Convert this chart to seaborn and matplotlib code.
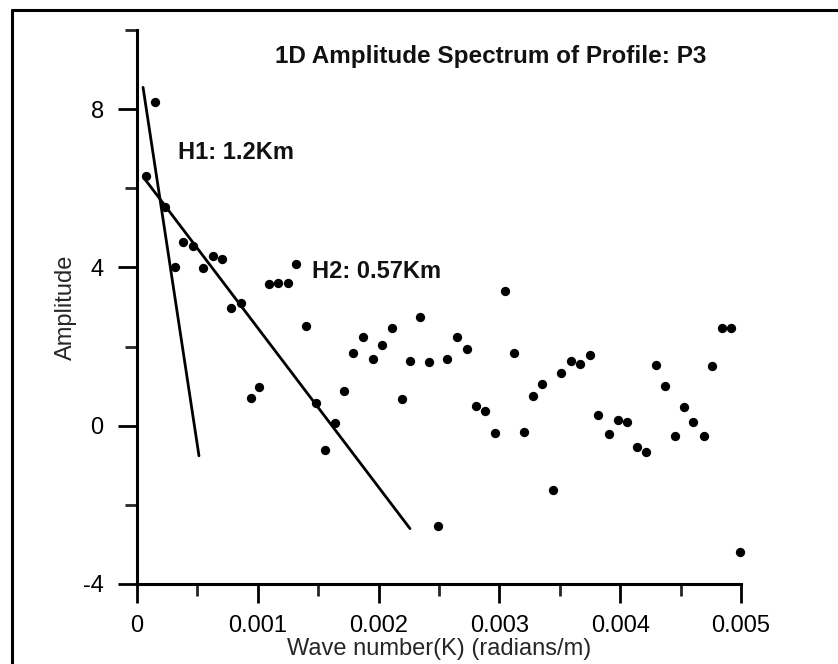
import matplotlib
matplotlib.use("Agg")
import matplotlib.pyplot as plt
import seaborn as sns
import numpy as np
import pandas as pd
from matplotlib.ticker import MultipleLocator
from matplotlib.lines import Line2D

# ---- data ----
wave_number = [0.000075, 0.00015, 0.00023, 0.000315, 0.00038, 0.00046, 0.00055, 0.00063,
               0.0007, 0.00078, 0.00086, 0.00094, 0.00101, 0.00109, 0.00117, 0.00125,
               0.00132, 0.0014, 0.00148, 0.00156, 0.00164, 0.00171, 0.00179, 0.00187,
               0.00195, 0.00203, 0.00211, 0.00219, 0.00226, 0.00234, 0.00242, 0.00249,
               0.00257, 0.00265, 0.00273, 0.00281, 0.00288, 0.00296, 0.00305, 0.00312,
               0.0032, 0.00328, 0.00335, 0.00344, 0.00351, 0.00359, 0.00367, 0.00375,
               0.00382, 0.00391, 0.00398, 0.00406, 0.00414, 0.00421, 0.0043, 0.00437,
               0.00445, 0.00453, 0.0046, 0.00469, 0.00476, 0.00484, 0.00492, 0.00499]
amplitude = [6.31, 8.18, 5.53, 4.0, 4.65, 4.55, 3.99, 4.29,
             4.22, 2.98, 3.1, 0.71, 0.99, 3.59, 3.6, 3.6,
             4.09, 2.52, 0.58, -0.61, 0.07, 0.87, 1.85, 2.25,
             1.68, 2.04, 2.47, 0.68, 1.64, 2.75, 1.62, -2.53,
             1.68, 2.23, 1.93, 0.51, 0.36, -0.18, 3.41, 1.85,
             -0.15, 0.76, 1.06, -1.62, 1.34, 1.64, 1.57, 1.79,
             0.28, -0.2, 0.15, 0.1, -0.53, -0.67, 1.54, 1.01,
             -0.27, 0.48, 0.1, -0.27, 1.52, 2.47, 2.47, -3.2]

h1_x = [0.00005, 0.000513]
h1_y = [8.55, -0.76]
h2_x = [0.000058, 0.00226]
h2_y = [6.26, -2.6]

x_ticks = [0, 0.001, 0.002, 0.003, 0.004, 0.005]
x_ticklabels = ["0", "0.001", "0.002", "0.003", "0.004", "0.005"]
y_ticks = [-4, 0, 4, 8]
y_ticklabels = ["-4", "0", "4", "8"]

title = "1D Amplitude Spectrum of Profile: P3"
label_h1 = "H1: 1.2Km"
label_h2 = "H2: 0.57Km"

# ---- style ----
sns.set_style("ticks")
plt.rcParams['font.family'] = ['Liberation Sans', 'DejaVu Sans']

W, H = 838, 664
fig = plt.figure(figsize=(W / 100, H / 100), dpi=100)
ax = fig.add_axes([137 / W, 1 - 584 / H, (741 - 137) / W, (584 - 30) / H])

df = pd.DataFrame({"k": wave_number, "amp": amplitude})
sns.scatterplot(data=df, x="k", y="amp", ax=ax, color="black", s=45,
                edgecolor="black", linewidth=0, clip_on=False, zorder=3)
sns.lineplot(x=h1_x, y=h1_y, ax=ax, color="black", linewidth=2.0, sort=False)
sns.lineplot(x=h2_x, y=h2_y, ax=ax, color="black", linewidth=2.0, sort=False)

ax.set_xlim(0, 0.005)
ax.set_ylim(-4, 10)
ax.set_xticks(x_ticks)
ax.set_xticklabels(x_ticklabels)
ax.set_yticks(y_ticks)
ax.set_yticklabels(y_ticklabels)
ax.xaxis.set_minor_locator(MultipleLocator(0.0005))
ax.yaxis.set_minor_locator(MultipleLocator(2))

for s in ["top", "right"]:
    ax.spines[s].set_visible(False)
for s in ["left", "bottom"]:
    ax.spines[s].set_linewidth(2.2)
    ax.spines[s].set_color("black")

ax.tick_params(axis="both", which="major", direction="out", length=14, width=2.0,
               labelsize=17, colors="black", pad=8)
ax.tick_params(axis="both", which="minor", direction="out", length=8.5, width=2.0)
ax.tick_params(axis="y", which="major", pad=10)

ax.set_xlabel("Wave number(K) (radians/m)", fontsize=17, labelpad=1)
ax.set_ylabel("Amplitude", fontsize=17, labelpad=4)

ax.text(0.00293, 9.32, title, fontsize=17.5, fontweight="bold", ha="center", va="center",
        color="#111111")
ax.text(0.00034, 6.9, label_h1, fontsize=17, fontweight="bold", ha="left", va="center",
        color="#111111")
ax.text(0.00145, 3.89, label_h2, fontsize=17, fontweight="bold", ha="left", va="center",
        color="#111111")

# outer frame (left and top edges visible)
fig.add_artist(Line2D([12 / W, 12 / W], [0, 1 - 10 / H], transform=fig.transFigure,
                      color="black", linewidth=2.2))
fig.add_artist(Line2D([12 / W, 1], [1 - 10 / H, 1 - 10 / H], transform=fig.transFigure,
                      color="black", linewidth=2.2))

fig.savefig("out.png", dpi=100, facecolor="white")
